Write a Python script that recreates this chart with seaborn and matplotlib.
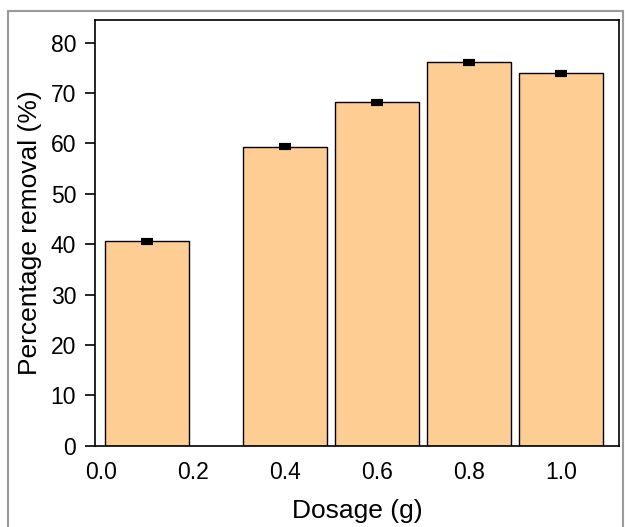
import numpy as np
import pandas as pd
import matplotlib
matplotlib.use("Agg")
import matplotlib.pyplot as plt
import matplotlib.patches as patches
import seaborn as sns

# values
dosage = [0.1, 0.4, 0.6, 0.8, 1.0]
removal = [40.6, 59.4, 68.2, 76.1, 73.9]
removal_err = [0.3, 0.3, 0.3, 0.3, 0.3]
x_ticks = [0.0, 0.2, 0.4, 0.6, 0.8, 1.0]
y_ticks = [0, 10, 20, 30, 40, 50, 60, 70, 80]

bar_color = "#FECD93"

sns.set_style("white")
plt.rcParams["font.family"] = ["Liberation Sans", "DejaVu Sans"]

df = pd.DataFrame({"Dosage": dosage, "Removal": removal})

fig, ax = plt.subplots(figsize=(6.25, 5.27), dpi=100)
fig.subplots_adjust(left=0.152, right=0.990, top=0.962, bottom=0.154)

sns.barplot(data=df, x="Dosage", y="Removal", native_scale=True, width=0.91,
            color=bar_color, saturation=1, edgecolor="black", linewidth=1,
            errorbar=None, ax=ax)
ax.errorbar(dosage, removal, yerr=removal_err, fmt="none", ecolor="black",
            elinewidth=1.2, capsize=4.5, capthick=3)

ax.set_xlim(-0.013, 1.126)
ax.set_ylim(0, 84.5)
ax.set_xticks(x_ticks)
ax.set_xticklabels([f"{v:.1f}" for v in x_ticks])
ax.set_yticks(y_ticks)
ax.tick_params(axis="y", direction="out", length=7, width=1.2, labelsize=16.5,
               left=True, pad=6.5, colors="black")
ax.tick_params(axis="x", length=0, labelsize=16.5, pad=11, colors="black")
ax.set_xlabel("Dosage (g)", fontsize=19, labelpad=11, color="black")
ax.set_ylabel("Percentage removal (%)", fontsize=19, labelpad=6, color="black")
for s in ax.spines.values():
    s.set_color("black")
    s.set_linewidth(1.2)

# light grey frame around the whole picture
fig.patches.append(patches.Rectangle((0.012, -0.01), 0.985, 0.99, transform=fig.transFigure,
                                     fill=False, edgecolor="#9a9a9a", linewidth=1.5))

fig.savefig("out.png", dpi=100)
